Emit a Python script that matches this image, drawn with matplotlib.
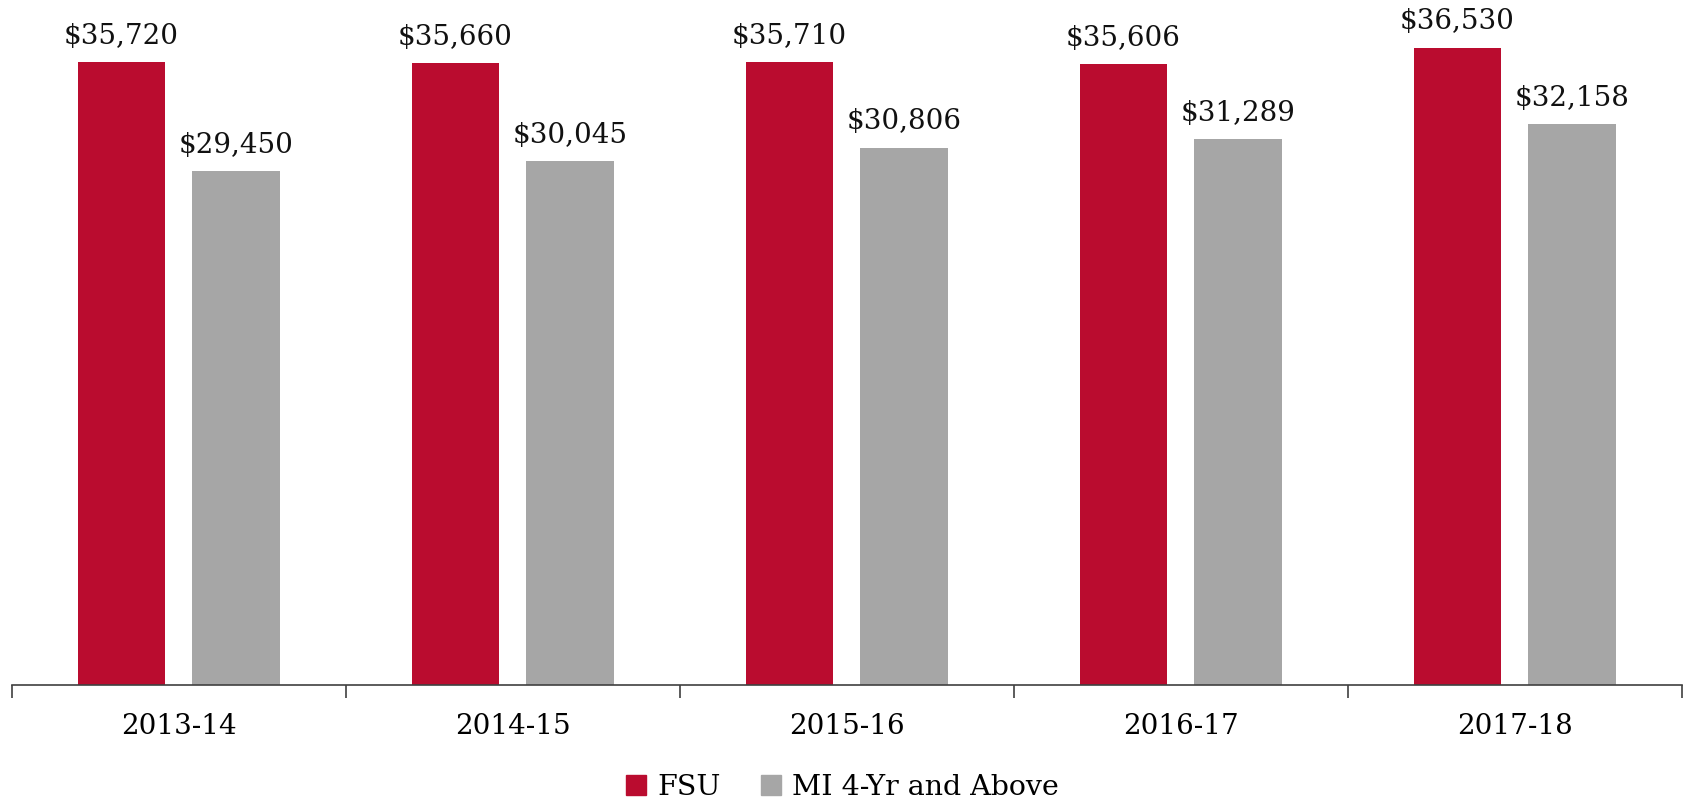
import matplotlib.pyplot as plt
from matplotlib.patches import Patch
import numpy as np

years = ["2013-14", "2014-15", "2015-16", "2016-17", "2017-18"]
fsu = [35720, 35660, 35710, 35606, 36530]
mi = [29450, 30045, 30806, 31289, 32158]
series_names = ["FSU", "MI 4-Yr and Above"]
colors = ["#BA0C2F", "#A6A6A6"]

plt.rcParams['font.family'] = ['DejaVu Serif']

fig = plt.figure(figsize=(16.85, 8), dpi=100)
ax = fig.add_axes([0.0069, 0.14375, 0.9911, 0.85625])

x = np.arange(len(years))
w = 0.263
off = 0.171
b1 = ax.bar(x - off, fsu, w, color=colors[0])
b2 = ax.bar(x + off, mi, w, color=colors[1])

for bars, vals in [(b1, fsu), (b2, mi)]:
    for r, v in zip(bars, vals):
        ax.annotate(f"${v:,}", (r.get_x() + r.get_width() / 2, v),
                    xytext=(0, 9), textcoords="offset points",
                    ha="center", va="bottom", fontsize=20, color="#111111")

ax.set_xlim(-0.5, len(years) - 0.5)
ax.set_ylim(0, 39280)
ax.set_yticks([])
for s in ["top", "right", "left"]:
    ax.spines[s].set_visible(False)
ax.spines["bottom"].set_color("#404040")
ax.spines["bottom"].set_linewidth(1.2)

ax.set_xticks(x, years, fontsize=20)
ax.tick_params(axis="x", which="major", length=0, pad=20)
ax.set_xticks(np.arange(-0.5, len(years)), minor=True)
ax.tick_params(axis="x", which="minor", length=9, width=1.2, color="#404040")

handles = [Patch(color=c) for c in colors]
fig.legend(handles, series_names, loc="lower center", bbox_to_anchor=(0.5, -0.033),
           ncol=2, frameon=False, fontsize=20.5, handlelength=0.7, handleheight=0.7,
           handletextpad=0.4, columnspacing=1.4)

fig.savefig("out.png", dpi=100, facecolor="white")
